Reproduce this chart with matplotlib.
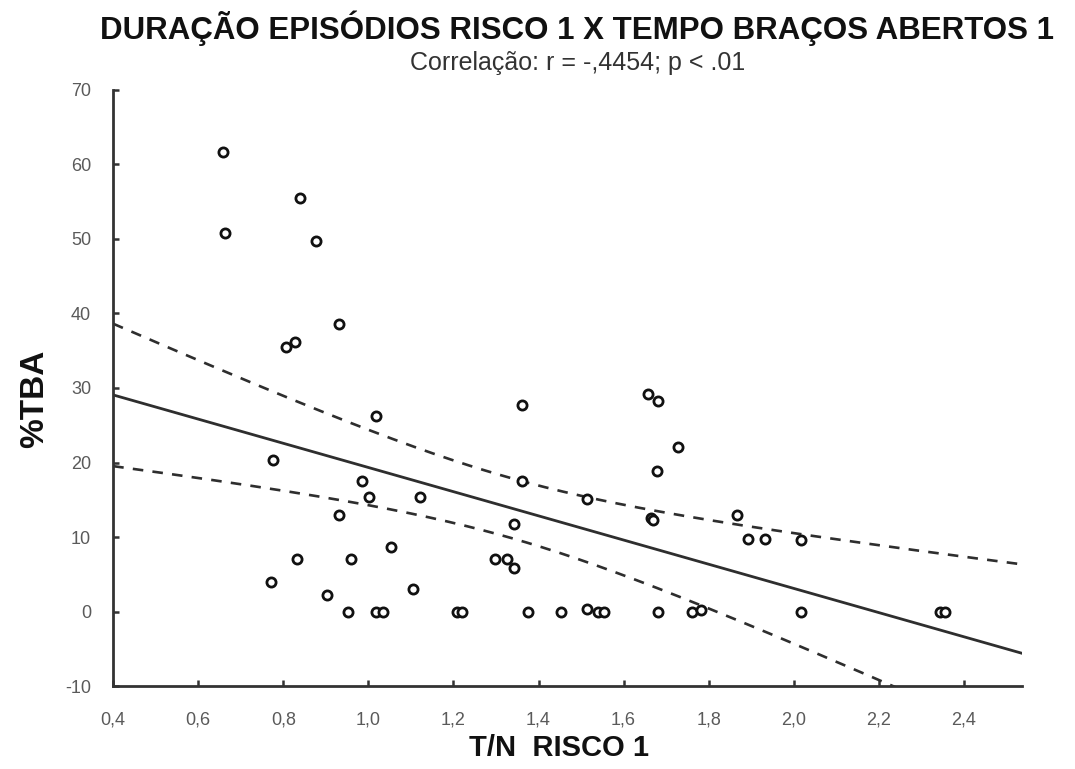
import numpy as np
import matplotlib
matplotlib.use("Agg")
import matplotlib.pyplot as plt
from matplotlib import font_manager as fm

# ---- data ----
tn_risco = [0.657, 0.662, 0.839, 0.876, 0.931, 0.806, 0.828, 1.019, 1.360, 0.776,
            0.986, 1.002, 1.122, 1.360, 0.930, 1.342, 1.052, 0.831, 0.958, 1.297,
            1.326, 1.342, 0.770, 1.105, 0.902, 0.951, 1.018, 1.035, 1.209, 1.219,
            1.376, 1.658, 1.680, 1.728, 1.679, 1.513, 1.665, 1.670, 1.866, 1.893,
            1.932, 1.454, 1.513, 1.540, 1.554, 1.680, 1.760, 1.783, 2.018, 2.018,
            2.343, 2.355]
tba = [61.7, 50.8, 55.5, 49.7, 38.6, 35.5, 36.2, 26.2, 27.7, 20.4,
       17.5, 15.4, 15.4, 17.5, 13.0, 11.8, 8.7, 7.1, 7.1, 7.1,
       7.1, 5.9, 3.9, 3.0, 2.2, 0.0, 0.0, 0.0, 0.0, 0.0,
       0.0, 29.2, 28.3, 22.1, 18.9, 15.1, 12.6, 12.3, 13.0, 9.8,
       9.8, 0.0, 0.4, 0.0, 0.0, 0.0, 0.0, 0.2, 9.6, 0.0,
       0.0, 0.0]
x_ticks = [0.4, 0.6, 0.8, 1.0, 1.2, 1.4, 1.6, 1.8, 2.0, 2.2, 2.4]
x_tick_labels = ["0,4", "0,6", "0,8", "1,0", "1,2", "1,4", "1,6", "1,8", "2,0", "2,2", "2,4"]
y_ticks = [-10, 0, 10, 20, 30, 40, 50, 60, 70]
title = "DURAÇÃO EPISÓDIOS RISCO 1 X TEMPO BRAÇOS ABERTOS 1"
subtitle = "Correlação: r = -,4454; p < .01"
x_label = "T/N  RISCO 1"
y_label = "%TBA"

# ---- fonts ----
names = {f.name for f in fm.fontManager.ttflist}
narrow = "Liberation Sans Narrow" if "Liberation Sans Narrow" in names else "Liberation Sans"
fam = [narrow, "DejaVu Sans"]

x = np.array(tn_risco)
y = np.array(tba)

fig = plt.figure(figsize=(10.75, 7.69), dpi=100)
ax = fig.add_axes([0.1053, 0.1079, 0.8451, 0.7751])
xmin, xmax = 0.4, 2.536
ymin, ymax = -10, 70

# regression with 95% confidence band
n = len(x)
b1, b0 = np.polyfit(x, y, 1)
res = y - (b0 + b1 * x)
s = np.sqrt(np.sum(res ** 2) / (n - 2))
sxx = np.sum((x - x.mean()) ** 2)
xs = np.linspace(xmin, xmax, 300)
ys = b0 + b1 * xs
half = 2.007 * s * np.sqrt(1.0 / n + (xs - x.mean()) ** 2 / sxx)

line_c = "#2e2e2e"
ax.plot(xs, ys, color=line_c, lw=2.0, zorder=2)
ax.plot(xs, ys + half, color=line_c, lw=1.9, ls=(0, (4, 3.5)), zorder=2)
ax.plot(xs, ys - half, color=line_c, lw=1.9, ls=(0, (4, 3.5)), zorder=2)

ax.plot(x, y, ls="none", marker="o", ms=6.6, mfc="white", mec="#111111",
        mew=2.0, zorder=3)

ax.set_xlim(xmin, xmax)
ax.set_ylim(ymin, ymax)
ax.set_xticks(x_ticks)
ax.set_xticklabels(x_tick_labels)
ax.set_yticks(y_ticks)
ax.set_yticklabels([str(v) for v in y_ticks])

for side in ("top", "right"):
    ax.spines[side].set_visible(False)
for side in ("left", "bottom"):
    ax.spines[side].set_linewidth(2.0)
    ax.spines[side].set_color("#333333")

ax.tick_params(axis="both", direction="in", length=4, width=1.8, color="#333333",
               labelcolor="#5a5a5a", labelsize=13)
ax.tick_params(axis="x", pad=18)
ax.tick_params(axis="y", pad=16)
for lab in ax.get_xticklabels() + ax.get_yticklabels():
    lab.set_family(fam)

fig.text(0.537, 0.963, title, ha="center", va="center", fontsize=22.5,
         fontweight="bold", family=fam, color="#111111")
fig.text(0.537, 0.918, subtitle, ha="center", va="center", fontsize=18,
         family=fam, color="#333333")
fig.text(0.52, 0.027, x_label, ha="center", va="center", fontsize=21,
         fontweight="bold", family=fam, color="#111111")
fig.text(0.032, 0.481, y_label, ha="center", va="center", fontsize=24,
         fontweight="bold", rotation=90, family=fam, color="#111111")

fig.savefig("out.png", dpi=100, facecolor="white")
